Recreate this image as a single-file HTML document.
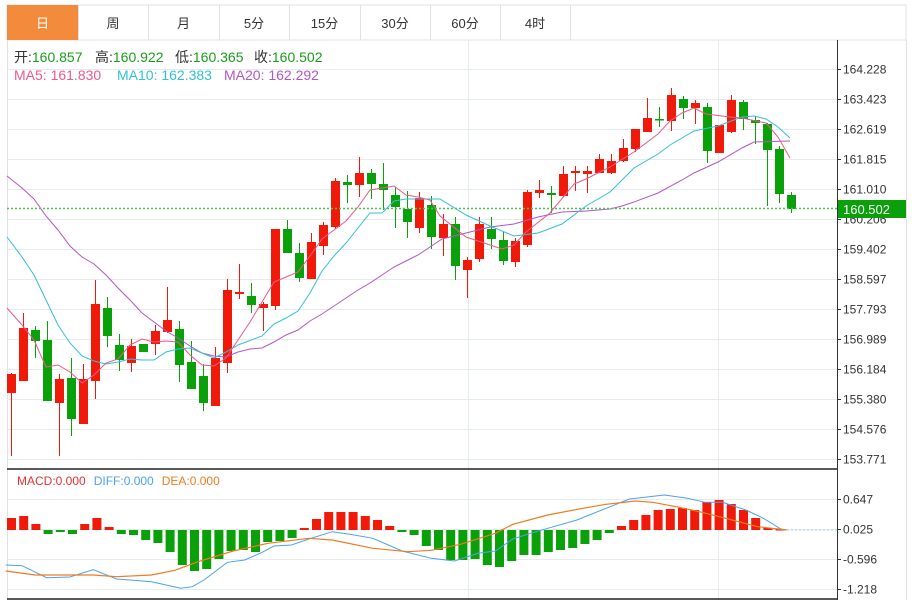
<!DOCTYPE html>
<html><head><meta charset="utf-8"><style>
body{margin:0;background:#fff;width:916px;height:602px;overflow:hidden;font-family:"Liberation Sans","Noto Sans CJK SC",sans-serif;}
svg{position:absolute;left:0;top:0}
</style></head><body>
<svg id="s" width="916" height="602" xmlns="http://www.w3.org/2000/svg" font-family="Liberation Sans, Noto Sans CJK SC, sans-serif"></svg>
<script>
var s=document.getElementById('s'),h='';
function L(x1,y1,x2,y2,c,w,d){h+='<line x1="'+x1+'" y1="'+y1+'" x2="'+x2+'" y2="'+y2+'" stroke="'+c+'" stroke-width="'+(w||1)+'"'+(d?' stroke-dasharray="'+d+'"':'')+'/>';}
function T(x,y,t,c,sz,a){h+='<text x="'+x+'" y="'+y+'" fill="'+c+'" font-size="'+(sz||12)+'"'+(a?' text-anchor="'+a+'"':'')+'>'+t+'</text>';}
function P(pts,c,w){h+='<polyline fill="none" stroke="'+c+'" stroke-width="'+(w||1)+'" points="'+pts.map(function(p){return p.join(',')}).join(' ')+'"/>';}
// tabs
h+='<rect x="7" y="5" width="899" height="35" fill="#fff" stroke="#dde2e8"/>';
h+='<rect x="7" y="5" width="71" height="35" fill="#f28c3c"/>';
var tb=['日','周','月','5分','15分','30分','60分','4时'],tx=[7,78,148,219,289,360,430,500,570];
for(var i=0;i<8;i++){ if(i>0)L(tx[i]+.5,5,tx[i]+.5,40,'#dde2e8'); T((tx[i]+tx[i+1])/2,28,tb[i],i==0?'#fff':'#333',13,'middle');}
L(570.5,5,570.5,40,'#dde2e8');
// frame
L(7.5,40,7.5,600,'#dde2e8');L(906.5,40,906.5,600,'#dde2e8');
// price grid
var labs=['164.228','163.423','162.619','161.815','161.010','160.206','159.402','158.597','157.793','156.989','156.184','155.380','154.576','153.771'];
for(var i=0;i<14;i++){var y=69+i*30+.5;L(7,y,837,y,'#e6ebf0');L(837,y,841,y,'#333');T(843,y+4,labs[i],'#333',12);}
L(468.5,40,468.5,600,'#e6ebf0');L(718.5,40,718.5,600,'#e6ebf0');
// header
var hd=[[14,'开:','160.857'],[95,'高:','160.922'],[175,'低:','160.365'],[254,'收:','160.502']];
hd.forEach(function(d){h+='<text x="'+d[0]+'" y="62" font-size="14"><tspan fill="#333">'+d[1]+'</tspan><tspan fill="#1a9e1a">'+d[2]+'</tspan></text>';});
T(14,80,'MA5: 161.830','#ea5a8c',14);T(117,80,'MA10: 162.383','#30c0da',14);T(224,80,'MA20: 162.292','#b455c8',14);
// candles
var C=[[374,393,373,456,1],[328,381,313,381,1],[330,341,326,358,0],[340,401,321,401,0],[379,403,374,456,1],[378,419,358,436,0],[379,424,364,424,1],[304,381,280,399,1],[308,336,297,347,0],[345,360,334,371,0],[346,363,339,372,1],[344,352,344,352,0],[331,344,325,355,1],[320,332,287,333,1],[329,365,321,382,0],[362,389,341,389,0],[376,403,364,411,0],[358,406,347,406,1],[290,363,279,373,1],[292,294,264,299,1],[296,305,283,313,0],[304,308,302,331,1],[229,306,229,310,1],[229,253,220,253,0],[253,278,243,282,0],[242,279,233,279,1],[225,246,222,255,1],[181,227,178,229,1],[182,185,175,203,0],[173,185,157,197,1],[173,184,169,199,0],[184,190,163,210,0],[195,207,187,228,0],[209,222,191,238,0],[198,228,192,233,1],[205,237,196,249,0],[224,238,214,256,1],[224,266,217,280,0],[260,270,257,298,1],[224,259,217,262,1],[229,239,217,249,0],[240,261,232,265,0],[241,262,238,267,1],[192,245,190,247,1],[190,193,180,198,1],[193,195,186,213,0],[174,196,166,197,1],[171,173,166,191,1],[171,174,166,193,1],[159,173,154,173,1],[161,173,154,174,1],[148,161,139,162,1],[129,149,129,152,1],[118,132,98,132,1],[119,120,107,127,0],[95,121,88,131,1],[99,108,96,119,0],[103,108,100,124,1],[107,151,103,163,0],[125,153,125,153,1],[100,132,95,133,1],[102,119,100,130,0],[120,123,116,144,0],[124,150,123,206,0],[149,194,146,203,0],[195,209,192,213,0]];
C.forEach(function(c,i){var x=11+12*i,col=c[4]?'#f01a0a':'#0aa00a';L(x+.5,c[2],x+.5,c[3],col);h+='<rect x="'+(x-4)+'" y="'+c[0]+'" width="9" height="'+Math.max(1.5,c[1]-c[0])+'" fill="'+col+'"/>';});
// MAs
P([[7,176],[22,188],[34,199],[46,216],[58,230],[70,246],[82,257],[94,264],[106,275],[118,288],[130,300],[142,313],[154,322],[166,331],[178,338],[190,346],[202,353],[214,356],[226,357],[238,352],[250,349],[262,348],[274,342],[286,335],[298,330],[310,321],[322,314],[334,306],[346,298],[358,290],[370,283],[382,275],[394,267],[406,261],[418,255],[430,247],[442,239],[466,233],[490,227],[514,224],[538,217],[562,212],[586,211],[610,209],[622,206],[634,202],[658,193],[682,180],[694,173],[718,162],[742,148],[754,142],[790,141]],'#b455c8');
P([[7,237],[22,257],[34,275],[46,300],[58,325],[70,343],[82,356],[94,361],[106,364],[118,362],[130,359],[142,360],[154,360],[166,352],[178,349],[190,348],[202,353],[214,358],[226,352],[238,345],[262,336],[274,324],[286,318],[298,311],[310,293],[322,271],[334,256],[346,243],[358,228],[370,213],[382,213],[394,201],[406,199],[418,199],[440,199],[466,215],[490,226],[514,236],[538,233],[562,224],[586,206],[610,192],[634,168],[658,154],[670,145],[682,138],[694,131],[718,126],[742,117],[754,116],[766,119],[778,127],[790,138]],'#30c0da');
P([[7,308],[22,325],[34,340],[46,367],[58,365],[70,372],[82,383],[94,375],[106,363],[118,359],[130,345],[142,339],[154,342],[166,341],[178,342],[190,355],[202,365],[214,366],[226,358],[238,340],[250,322],[262,302],[274,282],[286,277],[298,272],[310,256],[322,239],[334,230],[346,221],[358,207],[370,190],[382,188],[394,186],[406,195],[418,197],[430,200],[440,216],[466,237],[478,241],[502,249],[514,245],[526,232],[550,213],[574,184],[586,179],[610,167],[634,152],[658,134],[670,121],[682,113],[694,108],[706,114],[730,117],[742,118],[766,123],[778,137],[790,158]],'#ea5a8c');
// last price
L(7,208.5,837,208.5,'#4cc44c',1.5,'2,2');
h+='<rect x="838" y="200" width="68" height="18" fill="#0aa00a"/>';T(843,214,'160.502','#fff',13);
L(7,469,837,469,'#222',1.5);L(837.5,40,837.5,600,'#333');L(7,599,837,599,'#222',1.5);
// MACD
var ml=['0.647','0.025','-0.596','-1.218'];
for(var i=0;i<4;i++){var y=499+i*30+.5;L(7,y,837,y,'#e6ebf0');L(837,y,841,y,'#333');T(843,y+4,ml[i],'#333',12);}
h+='<text x="17" y="485" font-size="12"><tspan fill="#e83030">MACD:0.000</tspan><tspan fill="#4aa3ee" dx="8">DIFF:0.000</tspan><tspan fill="#f07a20" dx="8">DEA:0.000</tspan></text>';
var M=[518,516,524,534,532,534,524,518,527,534,535,540,543,552,565,571,569,559,551,550,552,542,541,538,528,519,512,512,512,516,520,526,532,535,546,550,560,560,559,565,567,561,555,555,552,550,548,544,540,533,526,520,515,510,509,508,510,502,500,504,510,518,528,529];
M.forEach(function(v,i){var x=11.5+12.2*i,up=v<530,col=up?'#f01a0a':'#0aa00a';var y0=up?v:530,hh=Math.max(1.5,Math.abs(v-530));h+='<rect x="'+(x-4.5)+'" y="'+y0+'" width="9" height="'+hh+'" fill="'+col+'"/>';});
function Z(a){return a.map(function(p){return [(p[0]/1.716).toFixed(1),(465+p[1]/3).toFixed(1)]});}
P(Z([[10,300],[38,302],[80,338],[120,336],[160,314],[200,342],[260,350],[310,370],[330,365],[350,345],[390,292],[420,285],[450,262],[470,243],[500,240],[530,222],[570,200],[600,208],[640,220],[690,258],[740,280],[780,288],[820,265],[850,258],[880,222],[910,205],[940,190],[990,165],[1040,130],[1080,102],[1140,90],[1180,100],[1210,112],[1240,112],[1280,135],[1310,160],[1340,192],[1350,195]]),'#4aa3ee');
P(Z([[10,318],[60,330],[160,330],[200,335],[260,330],[300,316],[340,290],[400,258],[460,235],[530,220],[570,225],[640,250],[700,260],[740,256],[790,238],[850,205],[880,178],[940,150],[1000,130],[1040,118],[1090,108],[1120,112],[1160,125],[1200,140],[1250,162],[1300,185],[1350,195]]),'#f07a20',1.2);
L(787,530,837,530,'#9fd0f0',1,'2,2');
s.innerHTML=h;
</script>
</body></html>
